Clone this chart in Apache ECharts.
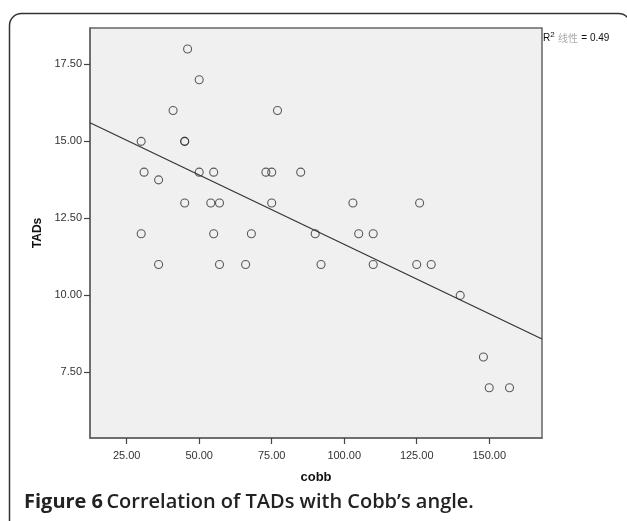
<!DOCTYPE html>
<html>
<head>
<meta charset="utf-8">
<script src="https://cdn.jsdelivr.net/npm/echarts@6/dist/echarts.min.js"></script>
<style>
html,body{margin:0;padding:0;background:#fff;}
#main{width:627px;height:521px;}
</style>
</head>
<body>
<div id="main"></div>
<script>
// Data
const cobb = [30, 30, 31, 36, 36, 41, 45, 45, 45, 46, 50, 50, 54, 55, 55, 57, 57, 66, 68, 73, 75, 75, 77, 85, 90, 92, 103, 105, 110, 110, 125, 126, 130, 140, 148, 150, 157];
const tads = [15, 12, 14, 13.75, 11, 16, 15, 15, 13, 18, 17, 14, 13, 14, 12, 13, 11, 11, 12, 14, 14, 13, 16, 14, 12, 11, 13, 12, 12, 11, 11, 13, 11, 10, 8, 7, 7];
const xTicks = [25, 50, 75, 100, 125, 150];
const yTicks = [7.5, 10, 12.5, 15, 17.5];
const xRange = [12.35, 168.2];
const yRange = [5.37, 18.68];
const r2Text = '0.49';

// least-squares fit from the data
const n = cobb.length;
const mx = cobb.reduce((a, b) => a + b, 0) / n;
const my = tads.reduce((a, b) => a + b, 0) / n;
let sxy = 0, sxx = 0;
for (let i = 0; i < n; i++) { sxy += (cobb[i] - mx) * (tads[i] - my); sxx += (cobb[i] - mx) ** 2; }
const slope = sxy / sxx;
const icpt = my - slope * mx;
const fitLine = [[xRange[0], icpt + slope * xRange[0]], [xRange[1], icpt + slope * xRange[1]]];

const chart = echarts.init(document.getElementById('main'));
const axisCol = '#666';
chart.setOption({
  animation: false,
  backgroundColor: '#fff',
  grid: { left: 90, top: 28, right: 85, bottom: 83, show: true, backgroundColor: '#f0f0f0', borderColor: axisCol, borderWidth: 1.5 },
  xAxis: {
    type: 'value', min: xRange[0], max: xRange[1],
    name: 'cobb', nameLocation: 'middle', nameGap: 33,
    nameTextStyle: { fontFamily: 'Liberation Sans', fontWeight: 'bold', fontSize: 13, color: '#111' },
    axisLine: { show: true, lineStyle: { color: axisCol, width: 1.5 } },
    axisTick: { show: true, length: 6, customValues: xTicks, lineStyle: { color: '#444', width: 1.2 } },
    axisLabel: { customValues: xTicks, formatter: v => v.toFixed(2), fontFamily: 'Liberation Sans', fontSize: 11, color: '#333', margin: 12 },
    splitLine: { show: false }
  },
  yAxis: {
    type: 'value', min: yRange[0], max: yRange[1],
    name: 'TADs', nameLocation: 'middle', nameGap: 37, nameRotate: 90,
    nameTextStyle: { fontFamily: 'Liberation Sans', fontWeight: 'bold', fontSize: 12, color: '#111' },
    axisLine: { show: true, lineStyle: { color: axisCol, width: 1.5 } },
    axisTick: { show: true, length: 6, customValues: yTicks, lineStyle: { color: '#444', width: 1.2 } },
    axisLabel: { customValues: yTicks, formatter: v => v.toFixed(2), fontFamily: 'Liberation Sans', fontSize: 11, color: '#333', margin: 8 },
    splitLine: { show: false }
  },
  graphic: [
    { type: 'rect', shape: { x: 9.5, y: 13.5, width: 621, height: 530, r: 12 }, style: { fill: 'none', stroke: '#333', lineWidth: 1.5 }, silent: true },
    { type: 'text', left: 543, top: 31, style: {
        text: '{a|R}{s|2} {g|线性} {a|= ' + r2Text + '}',
        rich: {
          a: { fontFamily: 'Liberation Sans', fontSize: 10, fill: '#111', verticalAlign: 'bottom', lineHeight: 12 },
          s: { fontFamily: 'Liberation Sans', fontSize: 8, fill: '#111', verticalAlign: 'top', lineHeight: 12 },
          g: { fontFamily: 'Noto Sans CJK SC', fontSize: 10, fill: '#aaa', verticalAlign: 'bottom', lineHeight: 12 }
        } } },
    { type: 'text', left: 24, top: 492, style: {
        text: '{b|Figure 6} {r|Correlation of TADs with Cobb\u2019s angle.}',
        rich: {
          b: { fontFamily: 'Open Sans', fontWeight: 'bold', fontSize: 20, fill: '#222' },
          r: { fontFamily: 'Open Sans', fontWeight: 600, fontSize: 20, fill: '#222' }
        } } }
  ],
  series: [
    {
      type: 'scatter', data: cobb.map((x, i) => [x, tads[i]]),
      symbol: 'circle', symbolSize: 8,
      itemStyle: { color: 'transparent', borderColor: '#333', borderWidth: 1.1 },
      z: 3
    },
    {
      type: 'line', data: fitLine, symbol: 'none', clip: true,
      lineStyle: { color: '#333', width: 1.2 }, z: 2
    }
  ]
});
</script>
</body>
</html>
